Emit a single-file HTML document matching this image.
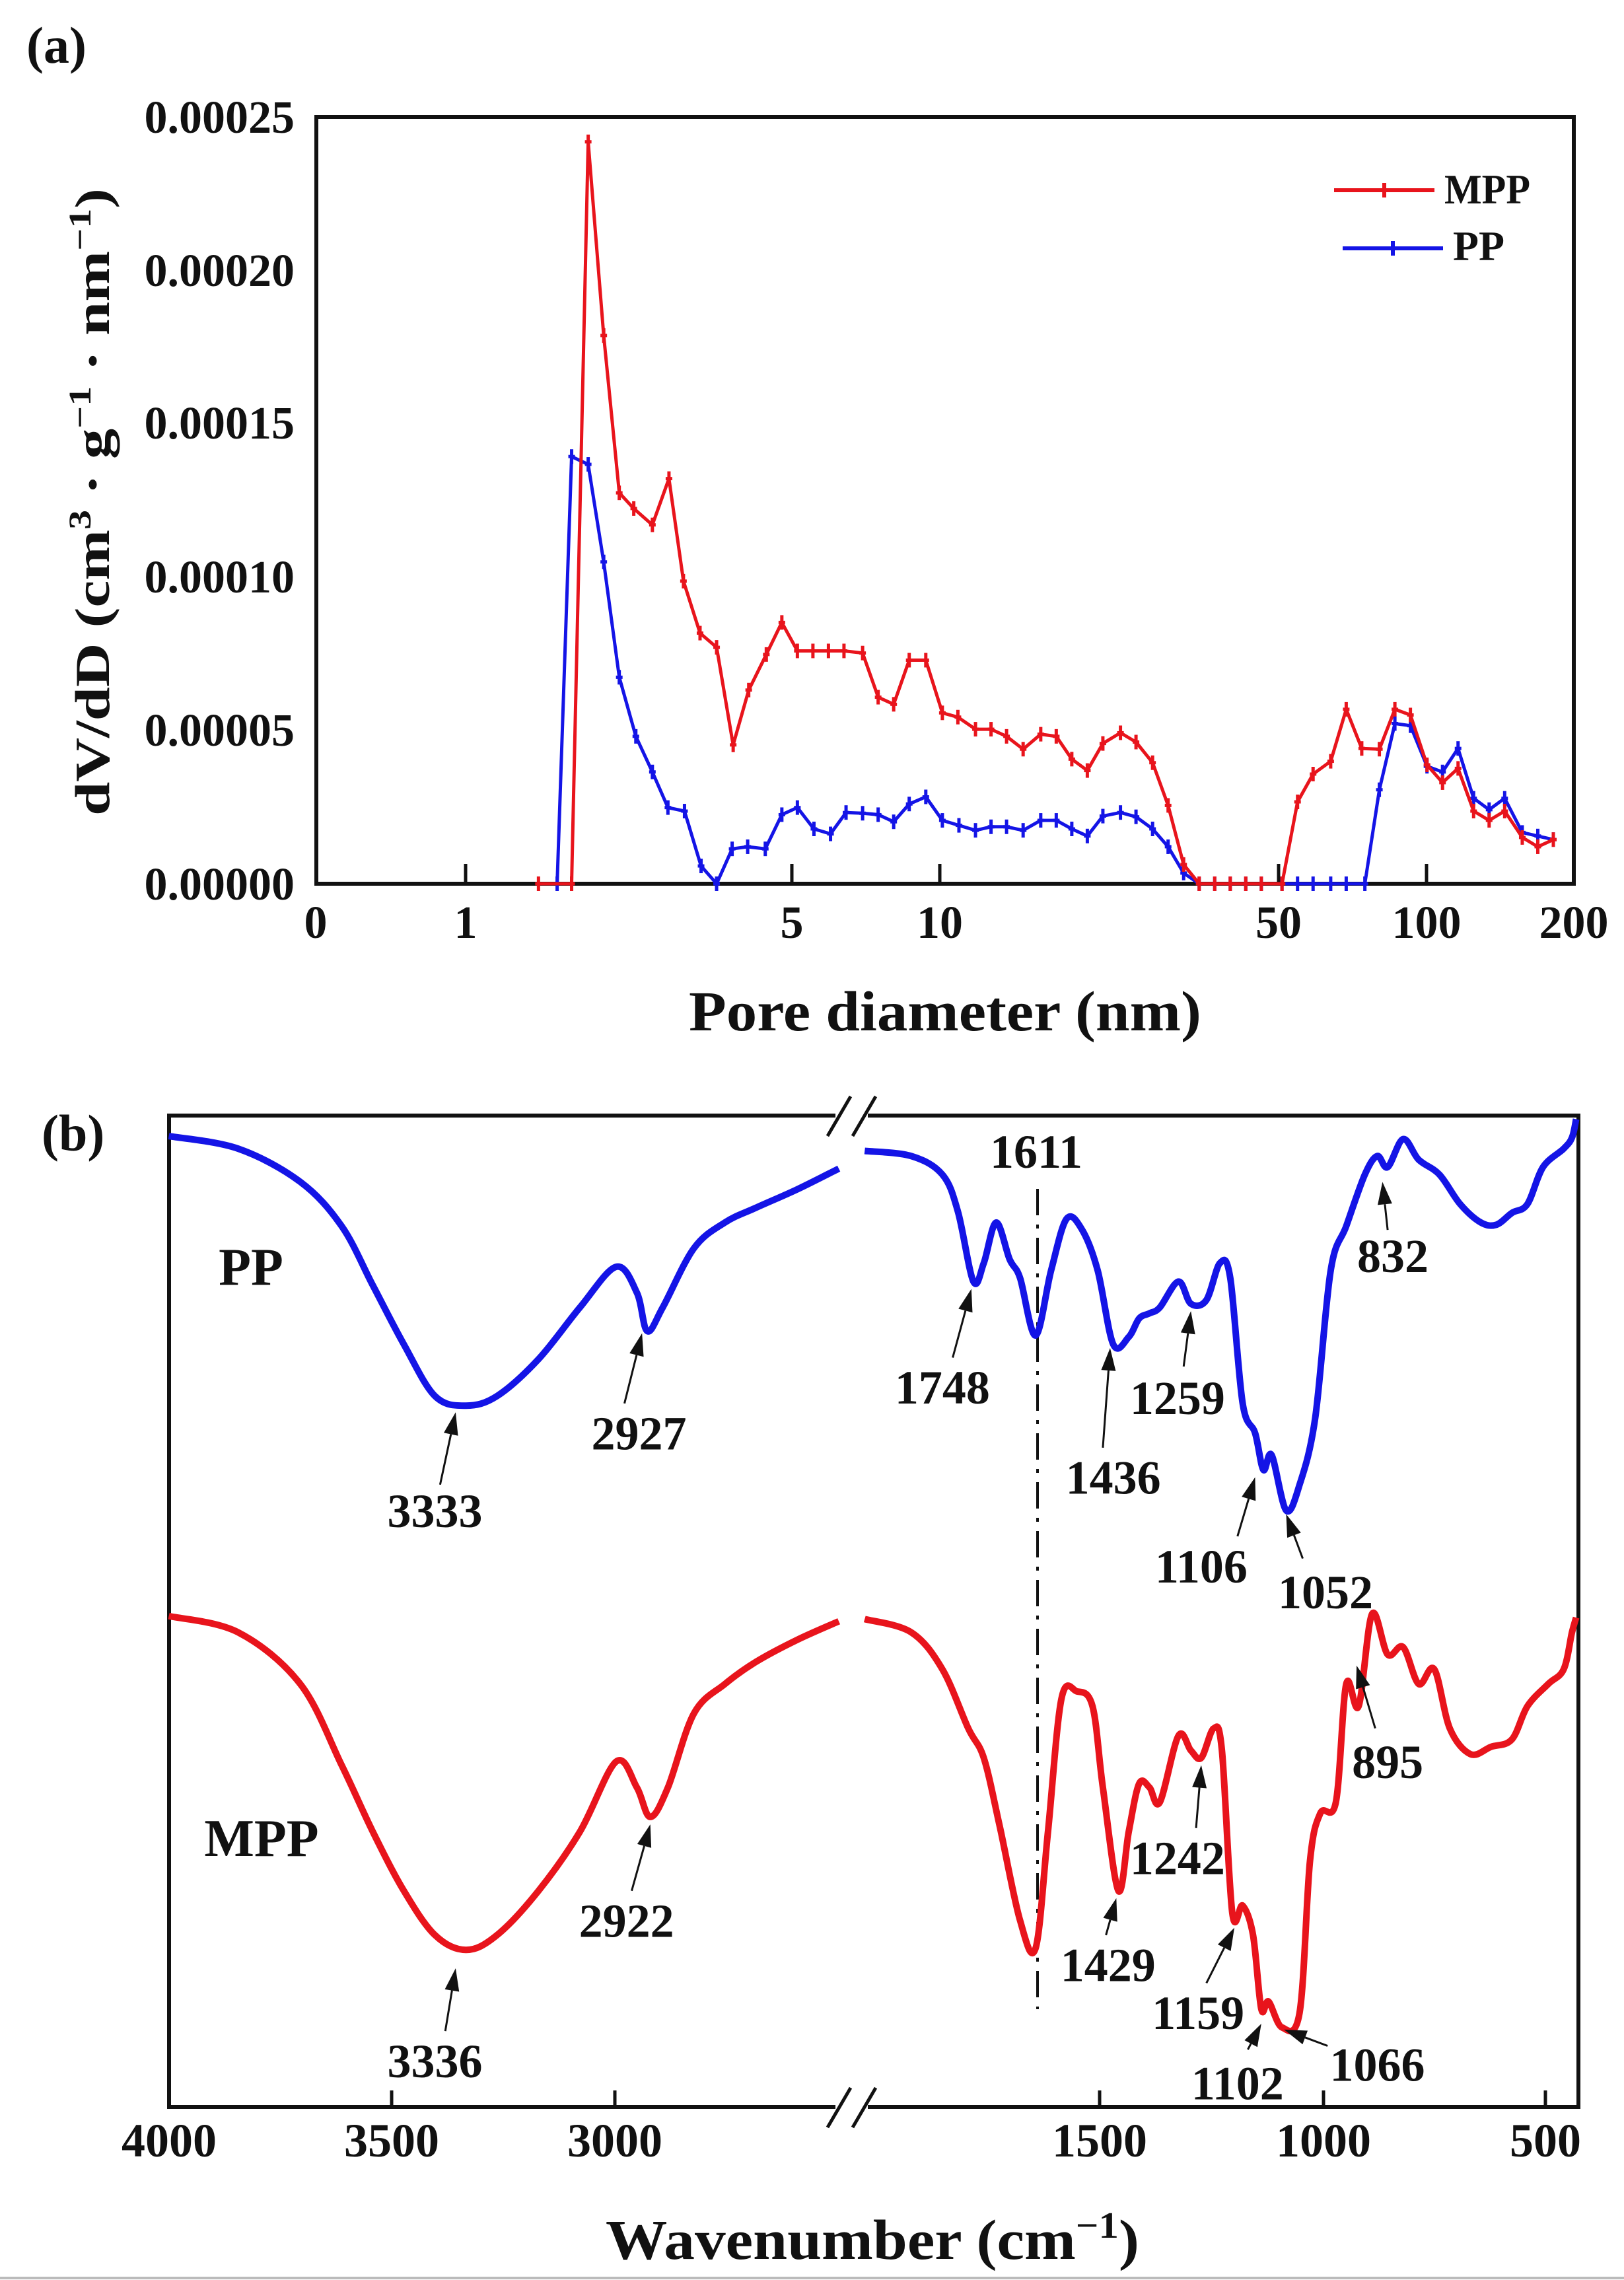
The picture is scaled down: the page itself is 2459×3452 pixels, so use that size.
<!DOCTYPE html>
<html><head><meta charset="utf-8">
<style>
html,body{margin:0;padding:0;background:#fff;}
svg{display:block;}
text{font-family:"Liberation Serif",serif;font-weight:bold;fill:#111;}
</style></head>
<body>
<svg id="s" width="2459" height="3452" viewBox="0 0 2459 3452" xmlns="http://www.w3.org/2000/svg">
<defs>
<marker id="ah" markerWidth="10" markerHeight="10" refX="9" refY="5" orient="auto" markerUnits="userSpaceOnUse" viewBox="0 0 10 10">
</marker>
</defs>
<rect width="2459" height="3452" fill="#fff"/>
<!-- Panel a -->
<text x="40" y="95" font-size="78">(a)</text>
<rect x="479" y="177" width="1904" height="1161" fill="none" stroke="#111" stroke-width="6"/>
<g font-size="70" text-anchor="end">
<text x="446" y="201">0.00025</text>
<text x="446" y="433">0.00020</text>
<text x="446" y="664">0.00015</text>
<text x="446" y="897">0.00010</text>
<text x="446" y="1129">0.00005</text>
<text x="446" y="1362">0.00000</text>
</g>
<g stroke="#111" stroke-width="5">
<line x1="705" y1="1338" x2="705" y2="1308"/>
<line x1="1199" y1="1338" x2="1199" y2="1308"/>
<line x1="1423" y1="1338" x2="1423" y2="1308"/>
<line x1="1936" y1="1338" x2="1936" y2="1308"/>
<line x1="2160" y1="1338" x2="2160" y2="1308"/>
</g>
<g font-size="70" text-anchor="middle">
<text x="478" y="1420">0</text>
<text x="705" y="1420">1</text>
<text x="1199" y="1420">5</text>
<text x="1423" y="1420">10</text>
<text x="1936" y="1420">50</text>
<text x="2160" y="1420">100</text>
<text x="2383" y="1420">200</text>
</g>
<text x="1431" y="1560" font-size="86" text-anchor="middle" textLength="776" lengthAdjust="spacingAndGlyphs">Pore diameter (nm)</text>
<text transform="translate(165,760) rotate(-90)" font-size="74" text-anchor="middle" textLength="950" lengthAdjust="spacingAndGlyphs">dV/dD  (cm<tspan font-size="48" dy="-28">3</tspan><tspan dy="28"> · g</tspan><tspan font-size="48" dy="-28">−1</tspan><tspan dy="28"> · nm</tspan><tspan font-size="48" dy="-28">−1</tspan><tspan dy="28">)</tspan></text>
<!-- legend -->
<line x1="2020" y1="288" x2="2172" y2="288" stroke="#e8141c" stroke-width="6"/>
<line x1="2096" y1="277" x2="2096" y2="299" stroke="#e8141c" stroke-width="6"/>
<text x="2187" y="308" font-size="64" textLength="130" lengthAdjust="spacingAndGlyphs">MPP</text>
<line x1="2033" y1="376" x2="2185" y2="376" stroke="#1414e6" stroke-width="6"/>
<line x1="2109" y1="365" x2="2109" y2="387" stroke="#1414e6" stroke-width="6"/>
<text x="2200" y="394" font-size="64" textLength="78" lengthAdjust="spacingAndGlyphs">PP</text>
<g id="ga"></g>

<!-- Panel b -->
<text x="63" y="1742" font-size="78">(b)</text>
<g stroke="#111" stroke-width="6" fill="none">
<polyline points="1265,1689 256,1689 256,3190 1265,3190"/>
<polyline points="1314,1689 2390,1689 2390,3190 1314,3190"/>
<line x1="1253" y1="1720" x2="1288" y2="1660" stroke-width="5"/>
<line x1="1291" y1="1720" x2="1326" y2="1660" stroke-width="5"/>
<line x1="1253" y1="3221" x2="1288" y2="3161" stroke-width="5"/>
<line x1="1291" y1="3221" x2="1326" y2="3161" stroke-width="5"/>
<line x1="593" y1="3190" x2="593" y2="3165" stroke-width="5"/>
<line x1="931" y1="3190" x2="931" y2="3165" stroke-width="5"/>
<line x1="1665" y1="3190" x2="1665" y2="3165" stroke-width="5"/>
<line x1="2004" y1="3190" x2="2004" y2="3165" stroke-width="5"/>
<line x1="2340" y1="3190" x2="2340" y2="3165" stroke-width="5"/>
<line x1="1571" y1="1800" x2="1571" y2="3042" stroke-width="4" stroke-dasharray="40,14,6,14"/>
</g>
<g font-size="72" text-anchor="middle">
<text x="256" y="3265">4000</text>
<text x="593" y="3265">3500</text>
<text x="931" y="3265">3000</text>
<text x="1665" y="3265">1500</text>
<text x="2004" y="3265">1000</text>
<text x="2340" y="3265">500</text>
</g>
<text x="1321" y="3420" font-size="86" text-anchor="middle" textLength="808" lengthAdjust="spacingAndGlyphs">Wavenumber (cm<tspan font-size="56" dy="-32">−1</tspan><tspan dy="32">)</tspan></text>
<text x="380" y="1945" font-size="80" text-anchor="middle">PP</text>
<text x="396" y="2810" font-size="80" text-anchor="middle">MPP</text>
<g id="gb"></g>
<line x1="0" y1="3449" x2="2459" y2="3449" stroke="#bbb" stroke-width="4"/>
</svg>
<script>
var NS="http://www.w3.org/2000/svg";
function el(p,t,a){var e=document.createElementNS(NS,t);for(var k in a)e.setAttribute(k,a[k]);p.appendChild(e);return e;}
var ga=document.getElementById('ga'),gb=document.getElementById('gb');
function AX(x){return x*1.568;} function AY(y){return 177+(y-160)*1.078;}
function BX(x){return x*1.568;} function BY(y){return 1700+y*1.118;}
var mpp=[[520,1237],[552,1237],[568,195],[583,467],[598,688],[612,710],[630,733],[646,668],[660,812],[676,885],[692,905],[708,1042],[723,965],[740,915],[755,870],[770,910],[785,910],[800,910],[815,910],[833,913],[848,975],[863,985],[878,923],[894,923],[910,997],[925,1003],[942,1020],[957,1020],[972,1030],[988,1048],[1005,1027],[1020,1030],[1035,1062],[1050,1078],[1065,1040],[1082,1025],[1097,1038],[1113,1067],[1128,1127],[1143,1210],[1158,1237],[1173,1237],[1188,1237],[1203,1237],[1218,1237],[1238,1237],[1253,1122],[1268,1083],[1285,1065],[1300,992],[1315,1047],[1332,1048],[1347,992],[1362,1000],[1378,1070],[1393,1095],[1408,1075],[1423,1135],[1438,1148],[1453,1135],[1470,1172],[1485,1185],[1500,1175]];
var pp=[[538,1237],[552,637],[568,648],[583,785],[598,947],[614,1030],[630,1080],[645,1130],[661,1135],[677,1212],[692,1237],[707,1188],[722,1185],[739,1188],[755,1140],[770,1130],[786,1160],[802,1167],[817,1137],[833,1138],[848,1140],[863,1150],[878,1125],[894,1115],[910,1148],[926,1155],[942,1162],[957,1157],[972,1157],[988,1162],[1005,1148],[1020,1148],[1035,1160],[1050,1170],[1065,1142],[1082,1137],[1097,1143],[1113,1160],[1128,1185],[1143,1222],[1158,1237],[1173,1237],[1188,1237],[1203,1237],[1218,1237],[1238,1237],[1253,1237],[1268,1237],[1285,1237],[1300,1237],[1318,1237],[1332,1105],[1347,1012],[1362,1015],[1378,1072],[1393,1080],[1408,1047],[1423,1117],[1438,1133],[1453,1117],[1470,1165],[1485,1170],[1500,1175]];
function drawA(d,c){var pts=d.map(function(p){return AX(p[0]).toFixed(1)+','+AY(p[1]).toFixed(1);}).join(' ');
el(ga,'polyline',{points:pts,fill:'none',stroke:c,'stroke-width':5,'stroke-linejoin':'round'});
d.forEach(function(p){var x=AX(p[0]),y=AY(p[1]);el(ga,'line',{x1:x,y1:y-11,x2:x,y2:y+11,stroke:c,'stroke-width':5});el(ga,'line',{x1:x-5,y1:y,x2:x+5,y2:y,stroke:c,'stroke-width':5});});}
drawA(pp,'#1414e6');drawA(mpp,'#e8141c');
function smooth(pts){var s='M'+pts[0][0].toFixed(1)+','+pts[0][1].toFixed(1);
for(var i=0;i<pts.length-1;i++){var p0=pts[i-1]||pts[i],p1=pts[i],p2=pts[i+1],p3=pts[i+2]||p2;
var c1=[p1[0]+(p2[0]-p0[0])/6,p1[1]+(p2[1]-p0[1])/6],c2=[p2[0]-(p3[0]-p1[0])/6,p2[1]-(p3[1]-p1[1])/6];
s+=' C'+c1[0].toFixed(1)+','+c1[1].toFixed(1)+' '+c2[0].toFixed(1)+','+c2[1].toFixed(1)+' '+p2[0].toFixed(1)+','+p2[1].toFixed(1);}return s;}
function drawB(d,c){var p=d.map(function(q){return [BX(q[0]),BY(q[1])];});el(gb,'path',{d:smooth(p),fill:'none',stroke:c,'stroke-width':10,'stroke-linejoin':'round','stroke-linecap':'butt'});}
var ppL=[[163,18],[230,35],[290,80],[330,140],[360,220],[390,300],[420,370],[450,383],[480,370],[520,320],[560,250],[595,195],[615,230],[625,282],[640,250],[670,170],[700,135],[730,115],[770,90],[810,62]];
var ppR=[[835,38],[880,45],[910,70],[925,120],[940,215],[950,190],[962,135],[975,185],[985,210],[1000,288],[1015,200],[1030,130],[1045,145],[1060,200],[1075,300],[1090,290],[1100,265],[1110,258],[1120,250],[1138,215],[1150,245],[1165,240],[1178,190],[1188,210],[1200,380],[1212,420],[1220,470],[1228,450],[1242,525],[1255,490],[1270,400],[1285,200],[1300,140],[1318,70],[1330,45],[1340,60],[1355,22],[1370,50],[1390,70],[1410,110],[1430,135],[1445,138],[1460,122],[1475,110],[1490,60],[1510,35],[1518,20],[1522,-5]];
var mL=[[163,668],[230,690],[290,760],[330,870],[360,960],[390,1040],[420,1100],[450,1120],[480,1100],[520,1040],[560,960],[595,865],[615,900],[628,940],[645,900],[670,800],[700,760],[730,730],[770,700],[810,675]];
var mR=[[835,672],[880,690],[910,740],[935,820],[950,860],[965,950],[985,1080],[1000,1118],[1012,960],[1025,780],[1040,770],[1055,790],[1065,900],[1080,1040],[1090,960],[1100,895],[1110,900],[1120,920],[1138,830],[1150,850],[1160,860],[1172,820],[1180,850],[1190,1070],[1200,1060],[1210,1100],[1218,1200],[1225,1190],[1238,1225],[1255,1205],[1265,1000],[1275,935],[1290,920],[1300,760],[1312,790],[1325,665],[1340,720],[1355,710],[1370,760],[1385,740],[1400,820],[1420,855],[1440,845],[1460,835],[1475,790],[1495,760],[1510,740],[1518,690],[1522,670]];
drawB(ppL,'#1414e6');drawB(ppR,'#1414e6');drawB(mL,'#e8141c');drawB(mR,'#e8141c');
var ann=[["3333",420,525,425,490,440,392],["2927",617,420,603,380,620,285],["1748",910,358,920,318,938,225],["1436",1075,480,1065,440,1072,305],["1259",1137,372,1143,330,1150,255],["1106",1160,600,1195,560,1212,480],["1052",1280,635,1258,590,1242,530],["832",1345,180,1340,145,1335,80],["3336",420,1270,430,1230,440,1145],["2922",605,1080,610,1040,628,950],["1429",1070,1140,1068,1100,1078,1050],["1242",1137,995,1155,955,1160,870],["1159",1157,1205,1165,1165,1192,1090],["1102",1195,1300,1205,1255,1218,1220],["1066",1330,1275,1282,1250,1240,1228],["895",1340,865,1328,820,1310,735]];
ann.forEach(function(a){var t=el(gb,'text',{x:BX(a[1]),y:BY(a[2])+25,'font-size':72,'text-anchor':'middle'});t.textContent=a[0];
var x1=BX(a[3]),y1=BY(a[4]),x2=BX(a[5]),y2=BY(a[6]);var dx=x2-x1,dy=y2-y1,L=Math.sqrt(dx*dx+dy*dy),ux=dx/L,uy=dy/L;
var bx=x2-ux*34,by=y2-uy*34;el(gb,'line',{x1:x1,y1:y1,x2:bx,y2:by,stroke:'#111','stroke-width':3});
el(gb,'polygon',{points:x2+','+y2+' '+(bx-uy*11)+','+(by+ux*11)+' '+(bx+uy*11)+','+(by-ux*11),fill:'#111'});});
var t=el(gb,'text',{x:1569,y:1768,'font-size':72,'text-anchor':'middle'});t.textContent='1611';
</script>
</body></html>
